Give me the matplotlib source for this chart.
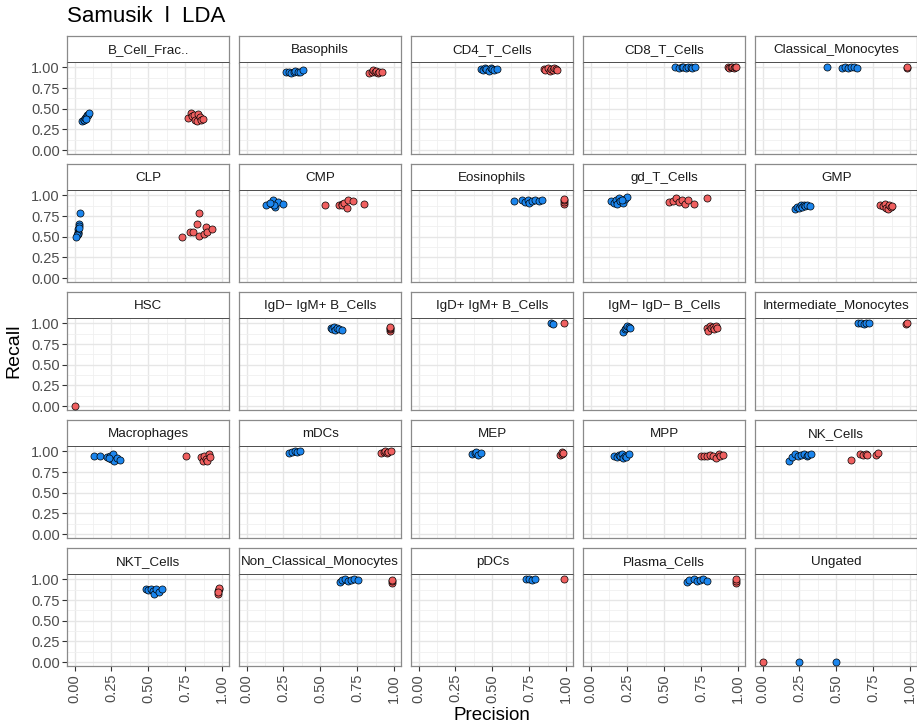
"""
Precision / recall facets per cell population for the Samusik LDA runs.
"""
import matplotlib

matplotlib.use("Agg")
import matplotlib.pyplot as plt
from matplotlib.ticker import MultipleLocator

plt.rcParams["font.family"] = ["Liberation Sans", "DejaVu Sans"]

TITLE = "Samusik  l  LDA"

POPULATIONS = [
    "B_Cell_Frac..", "Basophils", "CD4_T_Cells", "CD8_T_Cells", "Classical_Monocytes",
    "CLP", "CMP", "Eosinophils", "gd_T_Cells", "GMP",
    "HSC", "IgD\u2212 IgM+ B_Cells", "IgD+ IgM+ B_Cells", "IgM\u2212 IgD\u2212 B_Cells", "Intermediate_Monocytes",
    "Macrophages", "mDCs", "MEP", "MPP", "NK_Cells",
    "NKT_Cells", "Non_Classical_Monocytes", "pDCs", "Plasma_Cells", "Ungated",
]

TICKS = [0.0, 0.25, 0.5, 0.75, 1.0]
TICK_LABELS = ["0.00", "0.25", "0.50", "0.75", "1.00"]

# blue runs: precision and recall per population
BLUE_PRECISION = {
    "B_Cell_Frac..": [0.05, 0.06, 0.065, 0.07, 0.08, 0.085, 0.09, 0.10, 0.075],
    "Basophils": [0.27, 0.29, 0.30, 0.32, 0.33, 0.35, 0.36, 0.38],
    "CD4_T_Cells": [0.42, 0.44, 0.45, 0.46, 0.48, 0.49, 0.50, 0.51, 0.53],
    "CD8_T_Cells": [0.57, 0.60, 0.62, 0.63, 0.65, 0.66, 0.68, 0.69, 0.71],
    "Classical_Monocytes": [0.44, 0.54, 0.56, 0.58, 0.60, 0.62, 0.64],
    "CLP": [0.035, 0.03, 0.03, 0.025, 0.02, 0.025, 0.02, 0.015, 0.01, 0.03],
    "CMP": [0.13, 0.17, 0.18, 0.19, 0.21, 0.185, 0.25, 0.16],
    "Eosinophils": [0.65, 0.70, 0.72, 0.74, 0.75, 0.77, 0.79, 0.82, 0.84],
    "gd_T_Cells": [0.14, 0.16, 0.17, 0.18, 0.19, 0.20, 0.22, 0.23, 0.25, 0.21],
    "GMP": [0.22, 0.23, 0.25, 0.26, 0.27, 0.28, 0.29, 0.30, 0.32],
    "HSC": [],
    "IgD\u2212 IgM+ B_Cells": [0.57, 0.58, 0.59, 0.60, 0.61, 0.63, 0.65],
    "IgD+ IgM+ B_Cells": [0.90, 0.91],
    "IgM\u2212 IgD\u2212 B_Cells": [0.22, 0.23, 0.24, 0.25, 0.26, 0.27],
    "Intermediate_Monocytes": [0.65, 0.67, 0.69, 0.70, 0.72],
    "Macrophages": [0.13, 0.17, 0.22, 0.24, 0.25, 0.26, 0.27, 0.29, 0.31, 0.23],
    "mDCs": [0.29, 0.31, 0.33, 0.34, 0.36],
    "MEP": [0.365, 0.38, 0.39, 0.40, 0.42],
    "MPP": [0.16, 0.18, 0.19, 0.20, 0.21, 0.22, 0.23, 0.24, 0.26],
    "NK_Cells": [0.18, 0.20, 0.22, 0.24, 0.26, 0.28, 0.30, 0.31, 0.33],
    "NKT_Cells": [0.485, 0.50, 0.52, 0.53, 0.54, 0.55, 0.57, 0.59],
    "Non_Classical_Monocytes": [0.635, 0.65, 0.67, 0.69, 0.71, 0.73, 0.755],
    "pDCs": [0.73, 0.75, 0.77, 0.79],
    "Plasma_Cells": [0.655, 0.67, 0.70, 0.72, 0.74, 0.76, 0.79],
    "Ungated": [0.25, 0.50],
}
BLUE_RECALL = {
    "B_Cell_Frac..": [0.35, 0.37, 0.36, 0.39, 0.40, 0.42, 0.43, 0.45, 0.38],
    "Basophils": [0.94, 0.95, 0.93, 0.94, 0.96, 0.94, 0.95, 0.97],
    "CD4_T_Cells": [0.98, 0.97, 0.99, 0.98, 0.96, 0.99, 0.98, 0.97, 0.98],
    "CD8_T_Cells": [1.0, 0.99, 1.0, 1.0, 0.99, 1.0, 1.0, 0.99, 1.0],
    "Classical_Monocytes": [1.0, 0.99, 1.0, 0.99, 1.0, 1.0, 0.99],
    "CLP": [0.79, 0.65, 0.63, 0.60, 0.56, 0.55, 0.53, 0.52, 0.50, 0.61],
    "CMP": [0.89, 0.90, 0.95, 0.86, 0.92, 0.88, 0.90, 0.91],
    "Eosinophils": [0.93, 0.94, 0.92, 0.95, 0.91, 0.93, 0.94, 0.93, 0.94],
    "gd_T_Cells": [0.93, 0.91, 0.95, 0.90, 0.97, 0.93, 0.91, 0.96, 0.98, 0.94],
    "GMP": [0.83, 0.86, 0.85, 0.88, 0.86, 0.89, 0.87, 0.88, 0.87],
    "HSC": [],
    "IgD\u2212 IgM+ B_Cells": [0.95, 0.93, 0.96, 0.92, 0.94, 0.93, 0.92],
    "IgD+ IgM+ B_Cells": [1.0, 0.99],
    "IgM\u2212 IgD\u2212 B_Cells": [0.90, 0.93, 0.95, 0.97, 0.96, 0.94],
    "Intermediate_Monocytes": [1.0, 1.0, 0.99, 1.0, 1.0],
    "Macrophages": [0.95, 0.94, 0.93, 0.95, 0.91, 0.97, 0.89, 0.92, 0.90, 0.92],
    "mDCs": [0.98, 0.99, 1.0, 0.99, 1.0],
    "MEP": [0.97, 0.98, 0.99, 0.96, 0.98],
    "MPP": [0.95, 0.93, 0.96, 0.94, 0.97, 0.92, 0.95, 0.93, 0.97],
    "NK_Cells": [0.89, 0.93, 0.97, 0.95, 0.96, 0.97, 0.95, 0.96, 0.97],
    "NKT_Cells": [0.88, 0.87, 0.89, 0.86, 0.83, 0.88, 0.85, 0.89],
    "Non_Classical_Monocytes": [0.97, 0.99, 1.0, 0.98, 0.99, 1.0, 0.99],
    "pDCs": [1.0, 1.0, 0.99, 1.0],
    "Plasma_Cells": [0.97, 0.99, 1.0, 0.98, 0.99, 1.0, 0.98],
    "Ungated": [0.0, 0.0],
}

# red runs: precision and recall per population
RED_PRECISION = {
    "B_Cell_Frac..": [0.77, 0.79, 0.80, 0.81, 0.82, 0.83, 0.84, 0.85, 0.86, 0.87],
    "Basophils": [0.83, 0.85, 0.86, 0.87, 0.88, 0.89, 0.90, 0.92],
    "CD4_T_Cells": [0.85, 0.86, 0.88, 0.89, 0.90, 0.91, 0.92, 0.93, 0.94],
    "CD8_T_Cells": [0.93, 0.94, 0.95, 0.96, 0.97, 0.98, 0.99],
    "Classical_Monocytes": [0.98, 0.98],
    "CLP": [0.73, 0.78, 0.805, 0.83, 0.846, 0.846, 0.88, 0.89, 0.90, 0.93],
    "CMP": [0.53, 0.63, 0.645, 0.65, 0.66, 0.68, 0.69, 0.72, 0.80],
    "Eosinophils": [0.99, 0.99, 0.99, 0.99],
    "gd_T_Cells": [0.53, 0.56, 0.58, 0.60, 0.62, 0.64, 0.66, 0.70, 0.79],
    "GMP": [0.80, 0.82, 0.83, 0.84, 0.85, 0.86, 0.87, 0.88],
    "HSC": [0.0],
    "IgD\u2212 IgM+ B_Cells": [0.97, 0.97, 0.97, 0.97],
    "IgD+ IgM+ B_Cells": [0.99],
    "IgM\u2212 IgD\u2212 B_Cells": [0.79, 0.80, 0.81, 0.82, 0.83, 0.84, 0.85, 0.86],
    "Intermediate_Monocytes": [0.97, 0.98],
    "Macrophages": [0.755, 0.855, 0.87, 0.88, 0.89, 0.90, 0.91, 0.92],
    "mDCs": [0.91, 0.93, 0.94, 0.95, 0.96, 0.98],
    "MEP": [0.96, 0.97, 0.97, 0.98],
    "MPP": [0.75, 0.77, 0.79, 0.81, 0.83, 0.85, 0.87, 0.88, 0.90],
    "NK_Cells": [0.60, 0.66, 0.68, 0.70, 0.71, 0.77, 0.78],
    "NKT_Cells": [0.97, 0.97, 0.98, 0.98, 0.97],
    "Non_Classical_Monocytes": [0.99, 0.99, 0.99],
    "pDCs": [0.99],
    "Plasma_Cells": [0.99, 0.99, 0.99],
    "Ungated": [0.0],
}
RED_RECALL = {
    "B_Cell_Frac..": [0.39, 0.45, 0.41, 0.43, 0.37, 0.35, 0.44, 0.40, 0.36, 0.38],
    "Basophils": [0.93, 0.95, 0.97, 0.94, 0.96, 0.93, 0.95, 0.95],
    "CD4_T_Cells": [0.98, 0.97, 0.99, 0.96, 0.98, 0.97, 0.99, 0.98, 0.97],
    "CD8_T_Cells": [1.0, 0.99, 1.0, 1.0, 0.99, 1.0, 1.0],
    "Classical_Monocytes": [0.99, 1.0],
    "CLP": [0.50, 0.56, 0.56, 0.65, 0.79, 0.51, 0.53, 0.62, 0.56, 0.60],
    "CMP": [0.89, 0.89, 0.90, 0.88, 0.91, 0.85, 0.95, 0.93, 0.90],
    "Eosinophils": [0.90, 0.92, 0.94, 0.96],
    "gd_T_Cells": [0.92, 0.93, 0.97, 0.92, 0.95, 0.90, 0.94, 0.90, 0.97],
    "GMP": [0.89, 0.87, 0.90, 0.85, 0.83, 0.89, 0.86, 0.87],
    "HSC": [0.0],
    "IgD\u2212 IgM+ B_Cells": [0.91, 0.93, 0.95, 0.96],
    "IgD+ IgM+ B_Cells": [1.0],
    "IgM\u2212 IgD\u2212 B_Cells": [0.95, 0.91, 0.97, 0.94, 0.96, 0.93, 0.97, 0.95],
    "Intermediate_Monocytes": [0.99, 1.0],
    "Macrophages": [0.95, 0.93, 0.89, 0.95, 0.91, 0.88, 0.97, 0.93],
    "mDCs": [0.98, 0.99, 1.0, 0.98, 0.99, 1.0],
    "MEP": [0.96, 0.97, 0.99, 0.98],
    "MPP": [0.95, 0.94, 0.95, 0.96, 0.94, 0.92, 0.97, 0.94, 0.96],
    "NK_Cells": [0.90, 0.97, 0.96, 0.97, 0.96, 0.96, 0.98],
    "NKT_Cells": [0.83, 0.86, 0.88, 0.90, 0.85],
    "Non_Classical_Monocytes": [0.96, 0.98, 0.99],
    "pDCs": [1.0],
    "Plasma_Cells": [0.96, 0.98, 1.0],
    "Ungated": [0.0],
}

BLUE = "#1C86EE"
RED = "#F06060"
N_COLS = 5
N_ROWS = 5

# facet geometry in pixels (figure is 917 x 725)
FIG_W, FIG_H = 917, 725
LEFT, COL_PITCH, PANEL_W = 67.3, 172.0, 162.0
TOP, ROW_PITCH = 35.7, 128.0
STRIP_H, PANEL_H = 27.6, 91.0


def px_box(x, y, w, h):
    """Pixel box (top-left origin) to figure fraction rect."""
    return [x / FIG_W, 1 - (y + h) / FIG_H, w / FIG_W, h / FIG_H]


fig = plt.figure(figsize=(FIG_W / 100, FIG_H / 100), dpi=100)

for i, name in enumerate(POPULATIONS):
    row, col = divmod(i, N_COLS)
    x0 = LEFT + col * COL_PITCH
    y0 = TOP + row * ROW_PITCH

    strip = fig.add_axes(px_box(x0, y0, PANEL_W, STRIP_H))
    strip.set_xticks([])
    strip.set_yticks([])
    strip.set_facecolor("white")
    for side in ("top", "left", "right"):
        strip.spines[side].set_color("#8A8A8A")
        strip.spines[side].set_linewidth(0.9)
    strip.spines["bottom"].set_color("#3C3C3C")
    strip.spines["bottom"].set_linewidth(2.0)
    strip.spines["bottom"].set_capstyle("butt")
    strip.text(0.5, 0.48, name, ha="center", va="center", fontsize=9.6,
               color="#1A1A1A", transform=strip.transAxes)

    ax = fig.add_axes(px_box(x0, y0 + STRIP_H, PANEL_W, PANEL_H))
    ax.set_xlim(-0.05, 1.05)
    ax.set_ylim(-0.05, 1.05)
    ax.set_facecolor("white")
    ax.xaxis.set_minor_locator(MultipleLocator(0.125))
    ax.yaxis.set_minor_locator(MultipleLocator(0.125))
    ax.set_xticks(TICKS)
    ax.set_yticks(TICKS)
    ax.grid(which="major", color="#E6E6E6", linewidth=1.0)
    ax.grid(which="minor", color="#F0F0F0", linewidth=0.6)
    ax.set_axisbelow(True)
    for side in ax.spines.values():
        side.set_color("#8A8A8A")
        side.set_linewidth(0.9)
    ax.spines["top"].set_visible(False)
    ax.tick_params(which="minor", length=0)
    ax.tick_params(which="major", length=3.5, width=0.8, color="#333333",
                   labelsize=10.5, labelcolor="#4D4D4D", pad=2)

    if col == 0:
        ax.set_yticklabels(TICK_LABELS)
    else:
        ax.tick_params(axis="y", length=0, labelleft=False)
    if row == N_ROWS - 1:
        ax.set_xticklabels(TICK_LABELS, rotation=90, va="top", ha="center")
    else:
        ax.tick_params(axis="x", length=0, labelbottom=False)

    ax.scatter(BLUE_PRECISION[name], BLUE_RECALL[name], s=26, color=BLUE,
               edgecolor="black", linewidth=0.5, zorder=3, clip_on=False)
    ax.scatter(RED_PRECISION[name], RED_RECALL[name], s=26, color=RED,
               edgecolor="black", linewidth=0.5, zorder=3, clip_on=False)

fig.text(LEFT / FIG_W, 1 - 17 / FIG_H, TITLE, fontsize=16, ha="left", va="center",
         color="black")
fig.text(14 / FIG_W, 1 - 351 / FIG_H, "Recall", fontsize=14, rotation=90,
         ha="center", va="center", color="black")
fig.text(491.8 / FIG_W, 1 - 715 / FIG_H, "Precision", fontsize=13.5,
         ha="center", va="center", color="black")

fig.savefig("out.png", dpi=100)
